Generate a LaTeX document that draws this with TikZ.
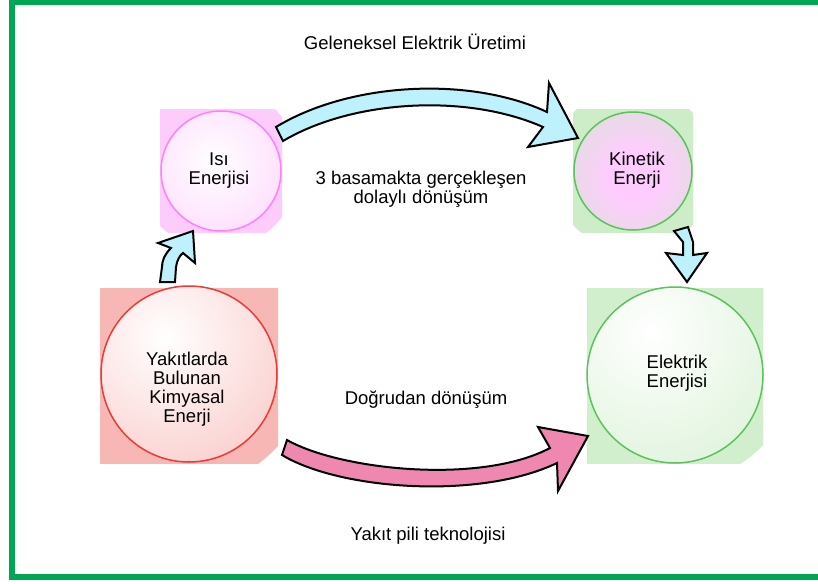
\documentclass[tikz,border=0pt]{standalone}
\usepackage{fontspec}
\setmainfont{Liberation Sans}
\definecolor{framegreen}{HTML}{00A651}
\definecolor{isibg}{HTML}{FDCCFB}
\definecolor{isistroke}{HTML}{FF80FF}
\definecolor{kinbg}{HTML}{CDECC8}
\definecolor{kinpink}{HTML}{FFCCFF}
\definecolor{greenstroke}{HTML}{5CC25C}
\definecolor{yakbg}{HTML}{F7B8B5}
\definecolor{yakstroke}{HTML}{EE3A35}
\definecolor{elkbg}{HTML}{D2EFCD}
\definecolor{bluefill}{HTML}{BDF1FC}
\definecolor{pinkfill}{HTML}{EE88B0}
\pgfdeclareradialshading{kinshade}{\pgfpoint{0bp}{0bp}}{color(0bp)=(kinpink); color(5bp)=(kinpink); color(22bp)=(kinbg); color(50bp)=(kinbg)}
\begin{document}
\begin{tikzpicture}[x=1pt,y=-1pt,
  lbl/.style={font=\fontsize{18.5}{19}\selectfont, align=center, inner sep=0pt},
  ball/.style={circle, inner sep=0pt, line width=1.5pt},
  blockarrow/.style={draw=black, line width=2pt, line join=miter}]
\useasboundingbox (0,0) rectangle (818,583);
\clip (0,0) rectangle (818,583);
\fill[white] (0,0) rectangle (818,583);
\draw[framegreen, line width=6pt] (12,2.5) rectangle (824,577);

% ---- Isi Enerjisi ----
\begin{scope}
  \clip (160,110) rectangle (282,232);
  \fill[isibg] (217,167) circle (82pt);
\end{scope}
\begin{scope}
  \clip (221,171) circle (60pt);
  \shade[inner color=white, outer color=isibg] (214,163) circle (120pt);
\end{scope}
\node[ball, minimum size=120pt, draw=isistroke] (isi) at (221,171) {};
\node[lbl] (isitxt) at (219,171) {Isı\\Enerjisi};

% ---- Kinetik Enerji ----
\begin{scope}
  \clip (573,110) rectangle (693,232);
  \fill[kinbg] (633,169) circle (82pt);
\end{scope}
\begin{scope}
  \clip (633,171) circle (59pt);
  \shade[shading=kinshade] (634,176) circle (124pt);
\end{scope}
\node[ball, minimum size=118pt, draw=greenstroke] (kin) at (633,171) {};
\node[lbl] (kintxt) at (637,170) {Kinetik\\Enerji};

% ---- Yakitlarda Bulunan Kimyasal Enerji ----
\begin{scope}
  \clip (100,288) rectangle (278,463);
  \fill[yakbg] (165,340) circle (155pt);
\end{scope}
\begin{scope}
  \clip (189,374) circle (88pt);
  \shade[inner color=white, outer color=yakbg] (165,338) circle (210pt);
\end{scope}
\node[ball, minimum size=176pt, draw=yakstroke] (yak) at (189,374) {};
\node[lbl] (yaktxt) at (187,389) {Yakıtlarda\\Bulunan\\Kimyasal\\Enerji};

% ---- Elektrik Enerjisi ----
\begin{scope}
  \clip (587,288) rectangle (763,463);
  \fill[elkbg] (652,333) circle (158pt);
\end{scope}
\begin{scope}
  \clip (675,375) circle (88pt);
  \shade[inner color=white, outer color=elkbg] (652,333) circle (210pt);
\end{scope}
\node[ball, minimum size=176pt, draw=greenstroke] (elk) at (675,375) {};
\node[lbl] (elktxt) at (677,373) {Elektrik\\Enerjisi};

% ---- Block arrows ----
% top: Isi -> Kinetik
\filldraw[blockarrow, fill=bluefill]
  (276,127) .. controls (350,82) and (470,76) .. (547,112)
  -- (549,83) -- (578,138) -- (528,147) -- (543,127)
  .. controls (466,93) and (352,100) .. (283,141) -- cycle;
% bottom: Yakitlarda -> Elektrik
\filldraw[blockarrow, fill=pinkfill]
  (287,440) .. controls (340,470) and (480,485) .. (550,448)
  -- (538,427) -- (588,436) -- (558,491) -- (557,463)
  .. controls (480,500) and (340,490) .. (282,455) -- cycle;
% small up arrow: Yakitlarda -> Isi
\filldraw[blockarrow, fill=bluefill]
  (160,282) -- (175,282) -- (176,267) .. controls (177,260) and (180,255) .. (183,253)
  -- (195,263) -- (193,231) -- (158,243) -- (171,248)
  .. controls (165,254) and (162,260) .. (162,267) -- cycle;
% small down arrow: Kinetik -> Elektrik
\filldraw[blockarrow, fill=bluefill]
  (674,231) -- (688,227) -- (693,242) -- (693,255) -- (707,253)
  -- (687,282) -- (666,253) -- (683,255) -- (683,242) -- cycle;

% ---- Labels ----
\node[lbl] (title) at (415,42) {Geleneksel Elektrik Üretimi};
\node[lbl] (indirect) at (421,189) {3 basamakta gerçekleşen\\dolaylı dönüşüm};
\node[lbl] (direct) at (426,400) {Doğrudan dönüşüm};
\node[lbl] (fuelcell) at (428,536) {Yakıt pili teknolojisi};
\end{tikzpicture}
\end{document}
